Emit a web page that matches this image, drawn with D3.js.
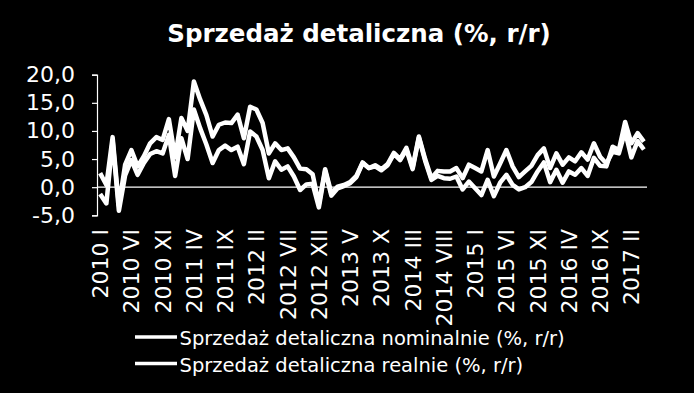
<!DOCTYPE html>
<html>
<head>
<meta charset="utf-8">
<script src="https://cdn.jsdelivr.net/npm/d3@7"></script>
<style>
  body { margin: 0; background: #000; }
  svg { display: block; font-family: "DejaVu Sans", sans-serif; }
</style>
</head>
<body>
<div id="chart"></div>
<script>
// months 2010 I .. 2017 IV
var years = [2010, 2011, 2012, 2013, 2014, 2015, 2016, 2017];
var romans = ["I", "II", "III", "IV", "V", "VI", "VII", "VIII", "IX", "X", "XI", "XII"];
var nMonths = 88;

var nominal = [2.5, 0.4, 8.9, -3.3, 4.0, 6.6, 3.7, 5.5, 7.8, 8.9, 8.4, 12.1,
    5.3, 12.3, 10.0, 18.8, 15.6, 12.8, 9.0, 11.1, 11.5, 11.4, 12.9, 8.7,
    14.3, 13.8, 11.4, 6.0, 7.8, 6.6, 6.9, 5.3, 3.3, 3.2, 2.3, -3.0,
    3.2, -1.1, 0.1, 0.4, 0.9, 2.0, 4.4, 3.4, 3.7, 3.0, 3.9, 5.9,
    4.8, 6.7, 3.2, 8.8, 4.7, 1.3, 2.0, 1.6, 1.5, 1.9, -0.4, 1.0,
    -0.2, -1.4, 1.3, -1.6, 0.8, 2.2, 0.4, -0.4, 0.0, 0.9, 2.8, 4.4,
    0.9, 3.1, 0.8, 2.8, 2.2, 3.4, 2.0, 5.2, 3.8, 3.7, 7.2, 6.6,
    11.6, 7.8, 9.6, 8.1];

var realne = [-1.2, -2.9, 8.3, -4.2, 2.1, 4.8, 2.2, 4.3, 5.9, 6.4, 6.0, 9.3,
    2.0, 8.7, 5.0, 13.8, 10.5, 7.6, 4.3, 6.6, 7.4, 6.6, 7.2, 4.1,
    9.9, 9.0, 6.6, 1.6, 4.6, 3.1, 3.7, 1.9, -0.5, 0.5, 0.6, -3.6,
    2.9, -1.5, -0.2, 0.2, 0.7, 1.8, 4.3, 3.4, 3.9, 3.2, 4.1, 6.1,
    5.0, 7.0, 3.5, 9.0, 5.0, 1.6, 2.9, 2.8, 2.8, 3.4, 1.6, 4.0,
    3.4, 2.8, 6.6, 1.9, 4.2, 6.6, 3.7, 1.8, 2.8, 3.8, 5.7, 6.9,
    3.4, 6.0, 4.0, 5.3, 4.6, 6.2, 4.9, 7.8, 5.4, 4.2, 6.3, 6.0,
    9.9, 5.3, 8.2, 6.7];

var yTicks = [-5, 0, 5, 10, 15, 20];
var legendNames = ["Sprzedaż detaliczna nominalnie (%, r/r)", "Sprzedaż detaliczna realnie (%, r/r)"];
var title = "Sprzedaż detaliczna (%, r/r)";

var months = [];
years.forEach(function (y) {
    romans.forEach(function (r) {
        if (months.length < nMonths) months.push(y + " " + r);
    });
});

var width = 694, height = 393;
var svg = d3.select("#chart").append("svg")
    .attr("width", width)
    .attr("height", height);

svg.append("rect").attr("width", width).attr("height", height).attr("fill", "#000");

var x = d3.scalePoint()
    .domain(months)
    .range([97, 647])
    .padding(0.5);

var y = d3.scaleLinear()
    .domain([-5, 20])
    .range([215.3, 74.7]);

svg.append("text")
    .attr("x", 359)
    .attr("y", 42)
    .attr("text-anchor", "middle")
    .attr("fill", "#fff")
    .style("font-size", "24.5px")
    .style("font-weight", "bold")
    .text(title);

// y axis
var yAxis = d3.axisLeft(y)
    .tickValues(yTicks)
    .tickSize(5)
    .tickPadding(17)
    .tickFormat(function (d) { return d.toFixed(1).replace(".", ","); });

var gY = svg.append("g")
    .attr("transform", "translate(97,0)")
    .call(yAxis);
gY.selectAll("path, line").attr("stroke", "#fff").attr("stroke-width", 1.2);
gY.selectAll("text").attr("fill", "#fff").style("font-size", "22px").style("font-family", "DejaVu Sans");

// category labels (low position)
var xAxis = d3.axisBottom(x)
    .tickValues(months.filter(function (d, i) { return i % 5 === 0; }))
    .tickSize(0);

var gX = svg.append("g")
    .attr("transform", "translate(0,229)")
    .call(xAxis);
gX.select(".domain").remove();
gX.selectAll("text")
    .attr("fill", "#fff")
    .style("font-size", "22px")
    .style("font-family", "DejaVu Sans")
    .attr("text-anchor", "end")
    .attr("dominant-baseline", "central")
    .attr("dy", null)
    .attr("y", 0)
    .attr("transform", "rotate(-90)");

// zero line
svg.append("line")
    .attr("x1", 97).attr("x2", 647)
    .attr("y1", y(0)).attr("y2", y(0))
    .attr("stroke", "#fff")
    .attr("stroke-width", 1.2);

var line = d3.line()
    .x(function (d, i) { return x(months[i]); })
    .y(function (d) { return y(d); });

[nominal, realne].forEach(function (s) {
    svg.append("path")
        .datum(s)
        .attr("d", line)
        .attr("fill", "none")
        .attr("stroke", "#fff")
        .attr("stroke-width", 4.5)
        .attr("stroke-linejoin", "round");
});

// legend
var legend = svg.selectAll(".legend")
    .data(legendNames)
    .enter().append("g")
    .attr("class", "legend")
    .attr("transform", function (d, i) { return "translate(0," + (337 + i * 26.5) + ")"; });

legend.append("line")
    .attr("x1", 135).attr("x2", 177)
    .attr("stroke", "#fff")
    .attr("stroke-width", 3.5);

legend.append("text")
    .attr("x", 179.5)
    .attr("y", 8)
    .attr("fill", "#fff")
    .style("font-size", "19.5px")
    .text(function (d) { return d; });
</script>
</body>
</html>
